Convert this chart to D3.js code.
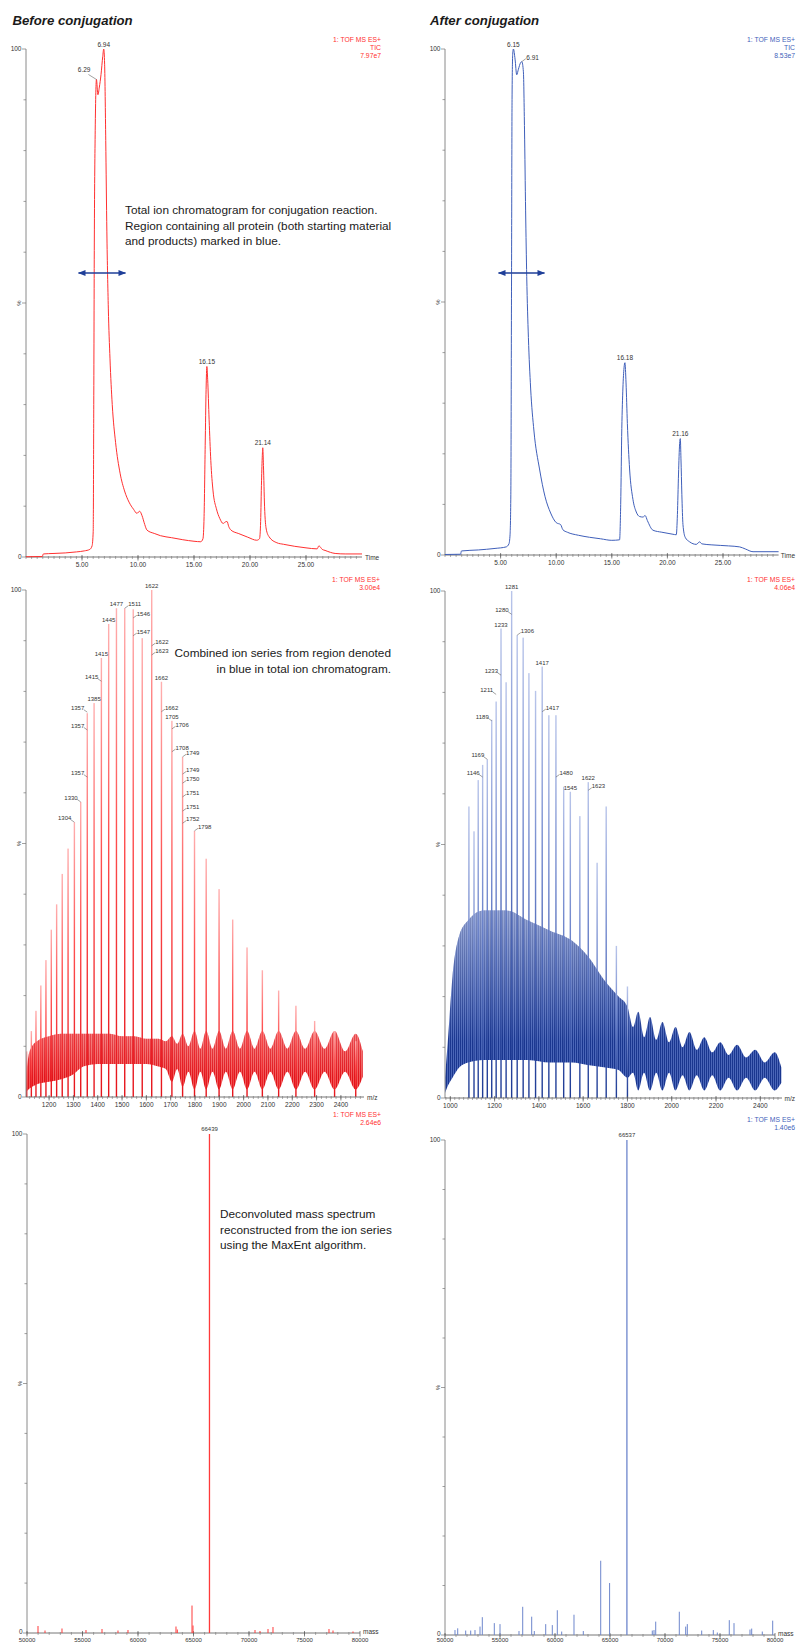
<!DOCTYPE html>
<html>
<head>
<meta charset="utf-8">
<script src="https://cdn.jsdelivr.net/npm/d3@7"></script>
<style>
  body { margin: 0; background: #fff; }
  svg { display: block; font-family: "Liberation Sans", Arial, Helvetica, sans-serif; }
</style>
</head>
<body>
<svg id="fig" width="796" height="1642"></svg>
<script>
// ---------- Total ion chromatograms (time, min / relative intensity, %) ----------
const ticBeforeTime = [0, 1.45, 1.55, 2.5, 3.5, 4.5, 5.2, 5.7, 5.9, 6.0, 6.05, 6.1, 6.18, 6.29, 6.42, 6.55, 6.7, 6.85, 6.94, 7.02, 7.12, 7.22, 7.35, 7.5, 7.7, 8.0, 8.4, 8.8, 9.2, 9.6, 9.9, 10.15, 10.35, 10.6, 10.8, 11.5, 12, 13, 14, 15, 15.6, 15.8, 15.9, 16.0, 16.08, 16.15, 16.22, 16.35, 16.5, 16.7, 17.0, 17.3, 17.6, 17.8, 17.95, 18.1, 18.3, 19.0, 19.8, 20.6, 20.85, 20.95, 21.03, 21.1, 21.14, 21.2, 21.3, 21.45, 21.7, 22.4, 23, 24, 25, 26, 26.15, 26.3, 26.45, 26.7, 27.2, 27.6, 28.5, 30];
const ticBeforePct  = [0.05, 0.1, 0.6, 0.7, 0.8, 1.0, 1.2, 1.5, 2.2, 5, 30, 62, 84, 94, 91, 92.5, 95, 98.5, 100, 97, 82, 64, 49, 39, 30, 22.5, 16.5, 13, 10.8, 9.4, 8.6, 9.0, 8.2, 6.4, 5.3, 4.6, 4.2, 3.8, 3.4, 3.1, 3.0, 3.6, 8, 22, 33, 37.5, 35, 27, 19, 13, 9.5, 7.6, 6.6, 6.9, 7.0, 6.0, 5.3, 4.6, 3.9, 3.3, 3.6, 7, 15, 20, 21.5, 18, 10, 5.5, 4.0, 2.8, 2.5, 2.1, 1.8, 1.6, 2.2, 1.9, 1.5, 1.3, 0.9, 0.7, 0.6, 0.6];
const ticBeforeLabels = ["6.29", "6.94", "16.15", "21.14"];
const ticBeforeLabelTime = [6.29, 6.94, 16.15, 21.14];
const ticBeforeLabelPct = [94, 100, 37.5, 21.5];

const ticAfterTime = [0, 1.4, 1.48, 3, 4.5, 5.5, 5.75, 5.85, 5.92, 5.98, 6.03, 6.09, 6.15, 6.3, 6.45, 6.6, 6.8, 6.91, 7.05, 7.15, 7.25, 7.35, 7.5, 7.7, 8.0, 8.5, 9.0, 9.5, 10.0, 10.4, 10.6, 11, 12, 13, 14, 15, 15.7, 15.8, 15.9, 16.0, 16.1, 16.18, 16.28, 16.4, 16.6, 16.9, 17.2, 17.5, 17.8, 18.0, 18.2, 18.7, 19.5, 20.5, 20.8, 20.9, 21.0, 21.1, 21.16, 21.22, 21.3, 21.4, 21.6, 22.0, 22.6, 22.9, 23.1, 24, 25.5, 26.5, 27.0, 27.7, 30];
const ticAfterPct  = [0.1, 0.15, 0.8, 1.0, 1.3, 1.6, 2.2, 4, 12, 52, 90, 99, 100, 98, 94.9, 96, 97.3, 97.5, 95.5, 84, 68, 55, 43, 33, 24.5, 17, 11.5, 8.3, 6.4, 6.0, 5.0, 4.5, 3.9, 3.5, 3.2, 2.9, 3.0, 10, 25, 33, 37, 38, 34, 26, 17, 11, 8.5, 7.6, 7.5, 7.8, 6.8, 4.9, 4.5, 4.1, 4.0, 8, 16, 22, 23, 19, 12, 6, 3.5, 2.6, 2.1, 2.6, 2.2, 2.0, 1.8, 1.6, 1.2, 0.65, 0.65];
const ticAfterLabels = ["6.15", "6.91", "16.18", "21.16"];
const ticAfterLabelTime = [6.15, 6.91, 16.18, 21.16];
const ticAfterLabelPct = [100, 97.5, 38, 23];

const ticTickValues = [5, 10, 15, 20, 25];
const ticTickLabels = ["5.00", "10.00", "15.00", "20.00", "25.00"];

// ---------- Combined ion series (m/z / relative intensity, %) ----------
const seriesBeforeMz  = [1108, 1127, 1146, 1166, 1187, 1209, 1231, 1254, 1278, 1304, 1330, 1357, 1385, 1415, 1445, 1477, 1511, 1546, 1583, 1622, 1662, 1705, 1749, 1798, 1846, 1899, 1955, 2014, 2077, 2144, 2215, 2292, 2374, 2461];
const seriesBeforePct = [9, 13, 17, 22, 27, 33, 38, 44, 49, 54.2, 58.2, 75.7, 77.7, 86.6, 93.3, 96.4, 96.4, 96.2, 90.5, 100, 81.9, 74.2, 67.1, 52.5, 47, 41, 35, 29.5, 25, 21, 18, 15, 13, 11];
// dense ion background: lower and upper edge
const bandBeforeMz = [1105, 1115, 1130, 1150, 1200, 1250, 1300, 1340, 1400, 1450, 1500, 1550, 1600, 1650, 1680, 1705, 1727, 1749, 1773, 1798, 1822, 1846, 1872, 1899, 1927, 1955, 1985, 2014, 2045, 2077, 2110, 2144, 2180, 2215, 2253, 2292, 2333, 2374, 2417, 2461, 2490];
const bandBeforeLo = [1.0, 1.5, 2.0, 2.5, 3.0, 3.5, 4.5, 6, 6.5, 6.5, 6.5, 6.5, 6.5, 6, 5.5, 3, 5.5, 2, 5, 1.5, 5, 1.5, 5, 1.5, 5, 1.5, 5, 1.5, 5, 1.5, 5, 1.5, 5, 1.5, 5, 1.5, 5, 1.5, 5, 1.5, 4];
const bandBeforeHi = [4, 8, 10, 11, 12, 12.5, 12.5, 12.5, 12.5, 12.5, 12, 12, 11.5, 11.5, 11, 12, 10.5, 12.5, 10, 13, 9.5, 13, 9.5, 13, 9.5, 13, 9.5, 13, 9.5, 13, 9.5, 13, 9.5, 13, 9.5, 13, 9.5, 13, 9, 12.5, 9];
const seriesBeforeLabelText = ["1304", "1330", "1357", "1357", "1357", "1385", "1415", "1415", "1445", "1477", "1511", "1546", "1547", "1622", "1622", "1623", "1662", "1662", "1705", "1706", "1708", "1749", "1749", "1750", "1751", "1751", "1752", "1798"];
const seriesBeforeLabelMz   = [1304, 1330, 1357, 1357, 1357, 1385, 1415, 1415, 1445, 1477, 1511, 1546, 1546, 1622, 1622, 1622, 1662, 1662, 1705, 1705, 1705, 1749, 1749, 1749, 1749, 1749, 1749, 1798];
const seriesBeforeLabelPct  = [54.2, 58.2, 63.1, 72.4, 75.9, 77.7, 82, 86.6, 93.3, 96.4, 96.4, 94.5, 91, 100, 89, 87.2, 81.9, 76, 74.2, 72.6, 68.1, 67.1, 63.7, 61.9, 59.2, 56.4, 54, 52.5];
const seriesBeforeLabelSide = ["l", "l", "l", "l", "l", "c", "l", "c", "c", "c", "r", "r", "r", "c", "r", "r", "c", "r", "c", "r", "r", "r", "r", "r", "r", "r", "r", "r"];

const seriesAfterMz  = [1084, 1107, 1126, 1146, 1167, 1187, 1207, 1229, 1252, 1277, 1302, 1329, 1355, 1385, 1415, 1445, 1477, 1512, 1542, 1585, 1623, 1663, 1704, 1750, 1800];
const seriesAfterPct = [57.5, 52.6, 62.7, 65.7, 66.8, 74.6, 78.2, 92.6, 82, 100, 91.3, 90.8, 83.8, 80.3, 85.1, 75.5, 75.5, 61.4, 60.4, 55.6, 62.3, 46.4, 57.5, 30, 22];
const bandAfterMz = [976, 990, 1010, 1040, 1080, 1150, 1250, 1350, 1450, 1550, 1620, 1700, 1760, 1800, 1825, 1849, 1875, 1902, 1930, 1958, 1988, 2017, 2049, 2080, 2113, 2147, 2183, 2219, 2257, 2295, 2336, 2377, 2420, 2465, 2495];
const bandAfterLo = [1, 2.5, 4, 6, 7, 7.5, 7.5, 7.5, 7, 7, 6.5, 6, 5.5, 4, 5, 1.5, 5, 1.5, 5, 1.5, 5, 1.5, 4.5, 1.5, 4.5, 1.5, 4.5, 1.5, 4, 1.5, 4, 1.5, 4, 1.5, 3];
const bandAfterHi = [4, 12, 24, 32, 35, 37, 37, 35, 33, 31, 28, 23, 20, 18, 14, 17, 12, 16, 11.5, 15, 11, 14, 10, 13, 9.5, 12, 9, 11, 8.5, 10.5, 8, 9.5, 7, 9, 6];
const seriesAfterLabelText = ["1281", "1280", "1233", "1306", "1233", "1211", "1189", "1169", "1146", "1417", "1417", "1480", "1545", "1622", "1623"];
const seriesAfterLabelMz   = [1277, 1277, 1229, 1302, 1229, 1207, 1187, 1167, 1146, 1415, 1415, 1477, 1542, 1623, 1623];
const seriesAfterLabelPct  = [100, 95.4, 92.6, 91.3, 83.4, 79.6, 74.4, 66.8, 63.3, 85.1, 76.2, 63.3, 60.4, 62.3, 60.7];
const seriesAfterLabelSide = ["c", "l", "c", "r", "l", "l", "l", "l", "l", "c", "r", "r", "c", "c", "r"];

const mzBeforeTicks = [1200, 1300, 1400, 1500, 1600, 1700, 1800, 1900, 2000, 2100, 2200, 2300, 2400];
const mzAfterTicks = [1000, 1200, 1400, 1600, 1800, 2000, 2200, 2400];

// ---------- Deconvoluted (MaxEnt) spectra (mass, Da / relative intensity, %) ----------
const massBefore    = [50991, 51622, 53153, 55315, 56757, 58198, 59099, 63423, 63541, 64865, 64955, 66439, 70541, 70991, 71712, 72162, 77207, 77568, 79369];
const massBeforePct = [1.4, 0.5, 0.9, 0.6, 0.8, 0.5, 0.6, 1.3, 0.7, 5.5, 1.5, 100, 0.6, 0.4, 0.8, 1.2, 0.8, 0.5, 0.3];
const massAfter    = [50909, 51155, 51882, 52336, 52727, 53182, 53391, 54482, 55000, 56727, 57064, 57882, 58118, 59155, 59755, 60209, 60609, 61727, 62573, 64155, 64964, 66537, 68845, 69000, 69155, 71300, 71882, 72027, 73336, 74391, 74755, 75845, 76273, 77727, 77882, 78845, 79791];
const massAfterPct = [1.0, 1.35, 0.9, 0.9, 1.0, 1.7, 3.6, 2.4, 2.2, 0.8, 5.7, 3.7, 0.8, 2.2, 2.0, 5.0, 0.7, 4.1, 0.8, 15, 10.5, 100, 0.9, 1.0, 2.7, 4.7, 1.7, 2.2, 0.9, 1.0, 0.5, 3.0, 2.4, 1.1, 1.3, 0.7, 2.9];
const massTicks = [50000, 55000, 60000, 65000, 70000, 75000, 80000];

// ---------- drawing ----------
const svg = d3.select("#fig");
const defs = svg.append("defs");
const RED = "#ff3030", BLUE = "#3f5fba";
const EDGE = 795;   // right page margin for labels
const FOOT = 1641.5; // lowest baseline for axis labels

function gradient(id, top, mid, bottom) {
  const g = defs.append("linearGradient").attr("id", id)
    .attr("x1", 0).attr("y1", 0).attr("x2", 0).attr("y2", 1);
  g.append("stop").attr("offset", 0).attr("stop-color", top);
  g.append("stop").attr("offset", 0.45).attr("stop-color", mid);
  g.append("stop").attr("offset", 1).attr("stop-color", bottom);
}
gradient("barRed", "#ffb0b0", "#ff5050", "#e5141b");
gradient("barBlue", "#b9c5ea", "#6f86cc", "#1d3a94");

function hatch(id, light, dark) {
  const p = defs.append("pattern").attr("id", id).attr("patternUnits", "userSpaceOnUse")
    .attr("width", 2).attr("height", 4);
  p.append("rect").attr("width", 2).attr("height", 4).attr("fill", light);
  p.append("rect").attr("width", 1).attr("height", 4).attr("fill", dark);
}
hatch("bandRed", "#f05a5a", "#e2141b");
hatch("bandBlue", "#4a66b8", "#1a368f");

const arrow = defs.append("marker").attr("id", "head").attr("viewBox", "0 0 10 10")
  .attr("refX", 9).attr("refY", 5).attr("markerWidth", 6).attr("markerHeight", 6)
  .attr("orient", "auto-start-reverse");
arrow.append("path").attr("d", "M0,1 L10,5 L0,9 Z").attr("fill", "#1f3f99");

// keep a right-hand label inside the page
function clampRight(sel) {
  const n = sel.node(), x = +sel.attr("x"), w = n.getComputedTextLength();
  if (x + w > EDGE) sel.attr("x", EDGE - w);
}

// panel frame: y axis 0-100 %, x axis with ticks
function frame(g, x, y, opt) {
  const [x0, x1] = x.range();
  const yb = y(0), yt = y(100);
  const ly = Math.min(yb + 10, FOOT);      // tick-label baseline
  const low = ly < yb + 10;                 // labels squeezed against the page foot
  g.append("line").attr("x1", x0).attr("x2", x0).attr("y1", yt).attr("y2", yb)
    .attr("stroke", "#8a8a8a").attr("stroke-width", 1);
  d3.range(0, 101, 10).forEach(v => {
    g.append("line").attr("x1", x0 - (v % 50 === 0 ? 4 : 2.5)).attr("x2", x0)
      .attr("y1", y(v)).attr("y2", y(v)).attr("stroke", "#777").attr("stroke-width", 0.7);
  });
  const lab = (t, yy) => g.append("text").attr("x", x0 - 4.5).attr("y", yy)
    .attr("text-anchor", "end").attr("font-size", 6.5).attr("fill", "#333").text(t);
  lab("100", yt + 2.3);
  lab("0", low ? yb + 0.8 : yb + 2.3);
  g.append("text").attr("transform", `translate(${x0 - 5},${y(50)}) rotate(-90)`)
    .attr("text-anchor", "middle").attr("font-size", 6).attr("fill", "#333").text("%");

  g.append("line").attr("x1", x0).attr("x2", x1).attr("y1", yb).attr("y2", yb)
    .attr("stroke", "#666").attr("stroke-width", 0.9);
  const [d0, d1] = x.domain();
  const minor = d3.range(Math.ceil(d0 / opt.minor) * opt.minor, d1, opt.minor);
  g.selectAll(null).data(minor).join("line")
    .attr("x1", d => x(d)).attr("x2", d => x(d)).attr("y1", yb - 1).attr("y2", yb + 2)
    .attr("stroke", "#777").attr("stroke-width", 0.6);
  g.selectAll(null).data(opt.ticks).join("line")
    .attr("x1", d => x(d)).attr("x2", d => x(d)).attr("y1", yb - 2).attr("y2", yb + 3.5)
    .attr("stroke", "#555").attr("stroke-width", 0.7);
  g.selectAll(null).data(opt.ticks).join("text")
    .attr("x", d => x(d)).attr("y", ly).attr("text-anchor", "middle")
    .attr("font-size", low ? 6 : 6.5).attr("fill", "#333")
    .text((d, i) => opt.labels[i]);
  const u = g.append("text").attr("x", x1 + 3).attr("y", low ? yb + 0.8 : yb + 2.5).attr("font-size", 6.5)
    .attr("fill", "#333").text(opt.unit);
  clampRight(u);
}

function instrument(g, xr, ytop, lines, color) {
  lines.forEach((t, i) => g.append("text").attr("x", Math.min(xr, EDGE)).attr("y", ytop + i * 7.8)
    .attr("text-anchor", "end").attr("font-size", 6.8).attr("fill", color).text(t));
}

function ticPanel(times, pcts, lt, lp, ltext, color, layout, instr) {
  const g = svg.append("g");
  const x = d3.scaleLinear().domain([0, 30]).range([layout.x0, layout.x1]);
  const y = d3.scaleLinear().domain([0, 100]).range([layout.yb, layout.yt]);
  frame(g, x, y, { minor: 0.5, ticks: ticTickValues, labels: ticTickLabels, unit: "Time" });
  const pts = times.map((t, i) => [t, pcts[i]]);
  g.append("path").attr("d", d3.line().x(d => x(d[0])).y(d => y(d[1])).curve(d3.curveMonotoneX)(pts))
    .attr("fill", "none").attr("stroke", color).attr("stroke-width", 1);
  ltext.forEach((t, i) => {
    const px = x(lt[i]), py = y(lp[i]);
    const side = layout.sides[i];
    if (side === "c") {
      g.append("text").attr("x", px).attr("y", py - 2.5).attr("text-anchor", "middle")
        .attr("font-size", 6.5).attr("fill", "#333").text(t);
    } else if (side === "l") {
      g.append("line").attr("x1", px - 8).attr("y1", py - 5).attr("x2", px).attr("y2", py)
        .attr("stroke", "#444").attr("stroke-width", 0.5);
      g.append("text").attr("x", px - 6).attr("y", py - 7).attr("text-anchor", "end")
        .attr("font-size", 6.5).attr("fill", "#333").text(t);
    } else {
      g.append("line").attr("x1", px).attr("y1", py).attr("x2", px + 4).attr("y2", py - 3)
        .attr("stroke", "#444").attr("stroke-width", 0.5);
      g.append("text").attr("x", px + 4.5).attr("y", py - 1.5).attr("text-anchor", "start")
        .attr("font-size", 6.5).attr("fill", "#333").text(t);
    }
  });
  instrument(g, layout.instrX, layout.instrY, instr, color);
  return { g, x, y };
}

function seriesPanel(id, mz, pct, bMz, bLo, bHi, lText, lMz, lPct, lSide, layout, opts) {
  const g = svg.append("g");
  const x = d3.scaleLinear().domain(layout.domain).range([layout.x0, layout.x1]);
  const y = d3.scaleLinear().domain([0, 100]).range([layout.yb, layout.yt]);
  const band = bMz.map((m, i) => ({ m, lo: bLo[i], hi: bHi[i] }));
  const bandPath = d3.area().x(d => x(d.m)).y0(d => y(d.lo)).y1(d => y(d.hi))
    .curve(d3.curveMonotoneX)(band);
  // light haze over the upper part of the dense ion background
  const fade = defs.append("linearGradient").attr("id", "fade" + id)
    .attr("gradientUnits", "userSpaceOnUse").attr("x1", 0).attr("x2", 0)
    .attr("y1", y(d3.max(bHi))).attr("y2", y(0));
  fade.append("stop").attr("offset", 0).attr("stop-color", "#fff").attr("stop-opacity", opts.haze);
  fade.append("stop").attr("offset", 0.7).attr("stop-color", "#fff").attr("stop-opacity", 0);
  g.append("path").attr("d", bandPath).attr("fill", opts.band);
  g.append("path").attr("d", bandPath).attr("fill", `url(#fade${id})`);
  g.selectAll(null).data(mz).join("rect")
    .attr("x", d => x(d) - 0.7).attr("width", 1.4)
    .attr("y", (d, i) => y(pct[i])).attr("height", (d, i) => y(0) - y(pct[i]))
    .attr("fill", opts.bar);
  frame(g, x, y, { minor: opts.minor, ticks: opts.ticks, labels: opts.ticks.map(String), unit: "m/z" });
  lText.forEach((t, i) => {
    const px = x(lMz[i]), py = y(lPct[i]);
    const s = lSide[i];
    if (s === "c") {
      g.append("text").attr("x", px).attr("y", py - 2).attr("text-anchor", "middle")
        .attr("font-size", 6).attr("fill", "#333").text(t);
    } else if (s === "l") {
      g.append("line").attr("x1", px - 3.5).attr("y1", py - 2.5).attr("x2", px).attr("y2", py)
        .attr("stroke", "#444").attr("stroke-width", 0.5);
      g.append("text").attr("x", px - 3).attr("y", py - 2).attr("text-anchor", "end")
        .attr("font-size", 6).attr("fill", "#333").text(t);
    } else {
      g.append("line").attr("x1", px).attr("y1", py).attr("x2", px + 3.5).attr("y2", py - 2.5)
        .attr("stroke", "#444").attr("stroke-width", 0.5);
      g.append("text").attr("x", px + 3.5).attr("y", py - 1.8).attr("text-anchor", "start")
        .attr("font-size", 6).attr("fill", "#333").text(t);
    }
  });
  instrument(g, layout.instrX, layout.instrY, opts.instr, RED);
}

function massPanel(mass, pct, layout, color, mainLabel, instr, instrColor) {
  const g = svg.append("g");
  const x = d3.scaleLinear().domain([50000, 80000]).range([layout.x0, layout.x1]);
  const y = d3.scaleLinear().domain([0, 100]).range([layout.yb, layout.yt]);
  frame(g, x, y, { minor: 1000, ticks: massTicks, labels: massTicks.map(String), unit: "mass" });
  g.selectAll(null).data(mass).join("line")
    .attr("x1", d => x(d)).attr("x2", d => x(d)).attr("y1", y(0))
    .attr("y2", (d, i) => y(pct[i]))
    .attr("stroke", color).attr("stroke-width", (d, i) => pct[i] >= 50 ? 1.3 : 1);
  const top = d3.maxIndex(pct);
  g.append("text").attr("x", x(mass[top])).attr("y", y(pct[top]) - 3).attr("text-anchor", "middle")
    .attr("font-size", 6).attr("fill", "#333").text(mainLabel);
  instrument(g, layout.instrX, layout.instrY, instr, instrColor);
}

// column headings
svg.append("text").attr("x", 12.5).attr("y", 25).attr("font-size", 13.2).attr("font-weight", "bold")
  .attr("font-style", "italic").attr("fill", "#1a1a1a").text("Before conjugation");
svg.append("text").attr("x", 430).attr("y", 25).attr("font-size", 13.2).attr("font-weight", "bold")
  .attr("font-style", "italic").attr("fill", "#1a1a1a").text("After conjugation");

// top row: total ion chromatograms
ticPanel(ticBeforeTime, ticBeforePct, ticBeforeLabelTime, ticBeforeLabelPct, ticBeforeLabels, RED,
  { x0: 26, x1: 362, yt: 49, yb: 557, sides: ["l", "c", "c", "c"], instrX: 381, instrY: 42 },
  ["1: TOF MS ES+", "TIC", "7.97e7"]);
ticPanel(ticAfterTime, ticAfterPct, ticAfterLabelTime, ticAfterLabelPct, ticAfterLabels, BLUE,
  { x0: 445, x1: 778.6, yt: 49, yb: 555, sides: ["c", "r", "c", "c"], instrX: 800, instrY: 42 },
  ["1: TOF MS ES+", "TIC", "8.53e7"]);

// protein elution window
[[78.5, 125.5], [498.5, 544.5]].forEach(([a, b]) => {
  svg.append("line").attr("x1", a).attr("x2", b).attr("y1", 273).attr("y2", 273)
    .attr("stroke", "#1f3f99").attr("stroke-width", 1.3)
    .attr("marker-start", "url(#head)").attr("marker-end", "url(#head)");
});

function note(x, y0, lines, anchor) {
  const t = svg.append("text").attr("font-size", 11.8).attr("fill", "#1a1a1a").attr("text-anchor", anchor);
  lines.forEach((s, i) => t.append("tspan").attr("x", x).attr("y", y0 + i * 15.5).text(s));
}
note(125, 214, ["Total ion chromatogram for conjugation reaction.",
  "Region containing all protein (both starting material",
  "and products) marked in blue."], "start");

// middle row: combined ion series
seriesPanel("L", seriesBeforeMz, seriesBeforePct, bandBeforeMz, bandBeforeLo, bandBeforeHi,
  seriesBeforeLabelText, seriesBeforeLabelMz, seriesBeforeLabelPct, seriesBeforeLabelSide,
  { domain: [1105, 2495], x0: 26, x1: 364, yt: 590, yb: 1097, instrX: 380, instrY: 582 },
  { band: "url(#bandRed)", bar: "url(#barRed)", haze: 0.25, minor: 20, ticks: mzBeforeTicks, instr: ["1: TOF MS ES+", "3.00e4"] });
seriesPanel("R", seriesAfterMz, seriesAfterPct, bandAfterMz, bandAfterLo, bandAfterHi,
  seriesAfterLabelText, seriesAfterLabelMz, seriesAfterLabelPct, seriesAfterLabelSide,
  { domain: [976, 2498], x0: 445, x1: 782, yt: 591, yb: 1098, instrX: 800, instrY: 582 },
  { band: "url(#bandBlue)", bar: "url(#barBlue)", haze: 0.45, minor: 20, ticks: mzAfterTicks, instr: ["1: TOF MS ES+", "4.06e4"] });

note(391, 657, ["Combined ion series from region denoted", "in blue in total ion chromatogram."], "end");

// bottom row: deconvoluted spectra
massPanel(massBefore, massBeforePct, { x0: 27, x1: 360, yt: 1134, yb: 1633, instrX: 381, instrY: 1117 },
  "#ff3a3a", "66439", ["1: TOF MS ES+", "2.64e6"], RED);
massPanel(massAfter, massAfterPct, { x0: 445, x1: 775, yt: 1140, yb: 1635, instrX: 800, instrY: 1122 },
  "#6d86cc", "66537", ["1: TOF MS ES+", "1.40e6"], BLUE);

note(220, 1218, ["Deconvoluted mass spectrum", "reconstructed from the ion series",
  "using the MaxEnt algorithm."], "start");
</script>
</body>
</html>
